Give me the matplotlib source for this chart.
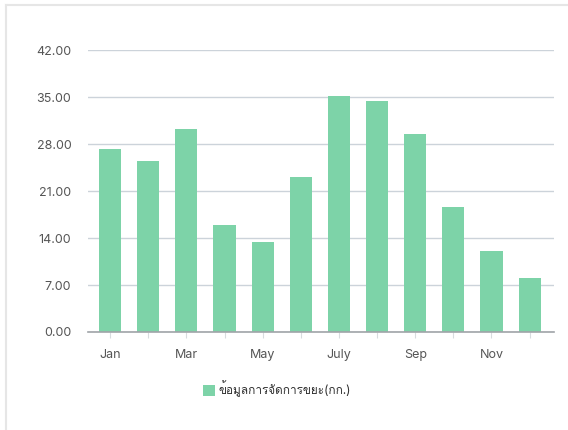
import matplotlib
matplotlib.use('Agg')
import matplotlib.pyplot as plt
import numpy as np
from matplotlib import font_manager, ft2font
from matplotlib.lines import Line2D


def mi_tajski(sciezka):
    try:
        return 0x0E02 in ft2font.FT2Font(sciezka).get_charmap()
    except Exception:
        return False


font_tajski = next((f.name for f in font_manager.fontManager.ttflist if mi_tajski(f.fname)), None)
rodziny = ['Inter', 'DejaVu Sans'] if font_tajski is None else ['Inter', font_tajski, 'DejaVu Sans']
plt.rcParams['font.family'] = rodziny

miesiace = ['Jan', 'Feb', 'Mar', 'Apr', 'May', 'Jun', 'July', 'Aug', 'Sep', 'Oct', 'Nov', 'Dec']
etykiety_x = ['Jan', '', 'Mar', '', 'May', '', 'July', '', 'Sep', '', 'Nov', '']
wartosci = [27.3, 25.4, 30.2, 16.0, 13.4, 23.1, 35.2, 34.4, 29.5, 18.6, 12.0, 8.1]
ticki_y = [0, 7, 14, 21, 28, 35, 42]
nazwa_serii = 'ข้อมูลการจัดการขยะ(กก.)'

kolor_slupka = '#7dd3a8'
kolor_tekstu = '#555555'

fig = plt.figure(figsize=(5.68, 4.30), dpi=100, facecolor='white')
ax = fig.add_axes([88 / 568, 1 - 332 / 430, 466 / 568, 282 / 430])

x = np.arange(len(miesiace))
slupki = ax.bar(x, wartosci, width=0.58, color=kolor_slupka, label=nazwa_serii, zorder=3)

ax.set_xlim(-0.58, 11.64)
ax.set_ylim(0, 42)
ax.set_yticks(ticki_y)
ax.set_yticklabels([f'{v:.2f}' for v in ticki_y])
ax.set_xticks(x)
ax.set_xticklabels(etykiety_x)

ax.grid(axis='y', color='#ccd3da', linewidth=1.0, zorder=0)
ax.grid(axis='x', visible=False)
for s in ['top', 'right', 'left']:
    ax.spines[s].set_visible(False)
ax.spines['bottom'].set_color('#a0a4a8')
ax.spines['bottom'].set_linewidth(1.2)
ax.spines['bottom'].set_zorder(4)

ax.tick_params(axis='y', length=0, pad=12, labelsize=9, labelcolor=kolor_tekstu)
ax.tick_params(axis='x', length=4.5, width=0.8, color='#d8dcdf', pad=8,
               labelsize=9, labelcolor=kolor_tekstu)

fig.legend(handles=[slupki], loc='center', bbox_to_anchor=(277 / 568, 1 - 389 / 430),
           frameon=False, fontsize=8.5, handlelength=1.0, handleheight=1.0,
           handletextpad=0.35, labelcolor='#2e2e2e')

# ramka karty (lewa i gorna krawedz)
fig.add_artist(Line2D([6 / 568, 6 / 568], [0, 1 - 5 / 430], color='#e6e6e6', linewidth=1.5))
fig.add_artist(Line2D([6 / 568, 1], [1 - 5 / 430, 1 - 5 / 430], color='#e6e6e6', linewidth=1.5))

fig.savefig('out.png', dpi=100, facecolor='white')
